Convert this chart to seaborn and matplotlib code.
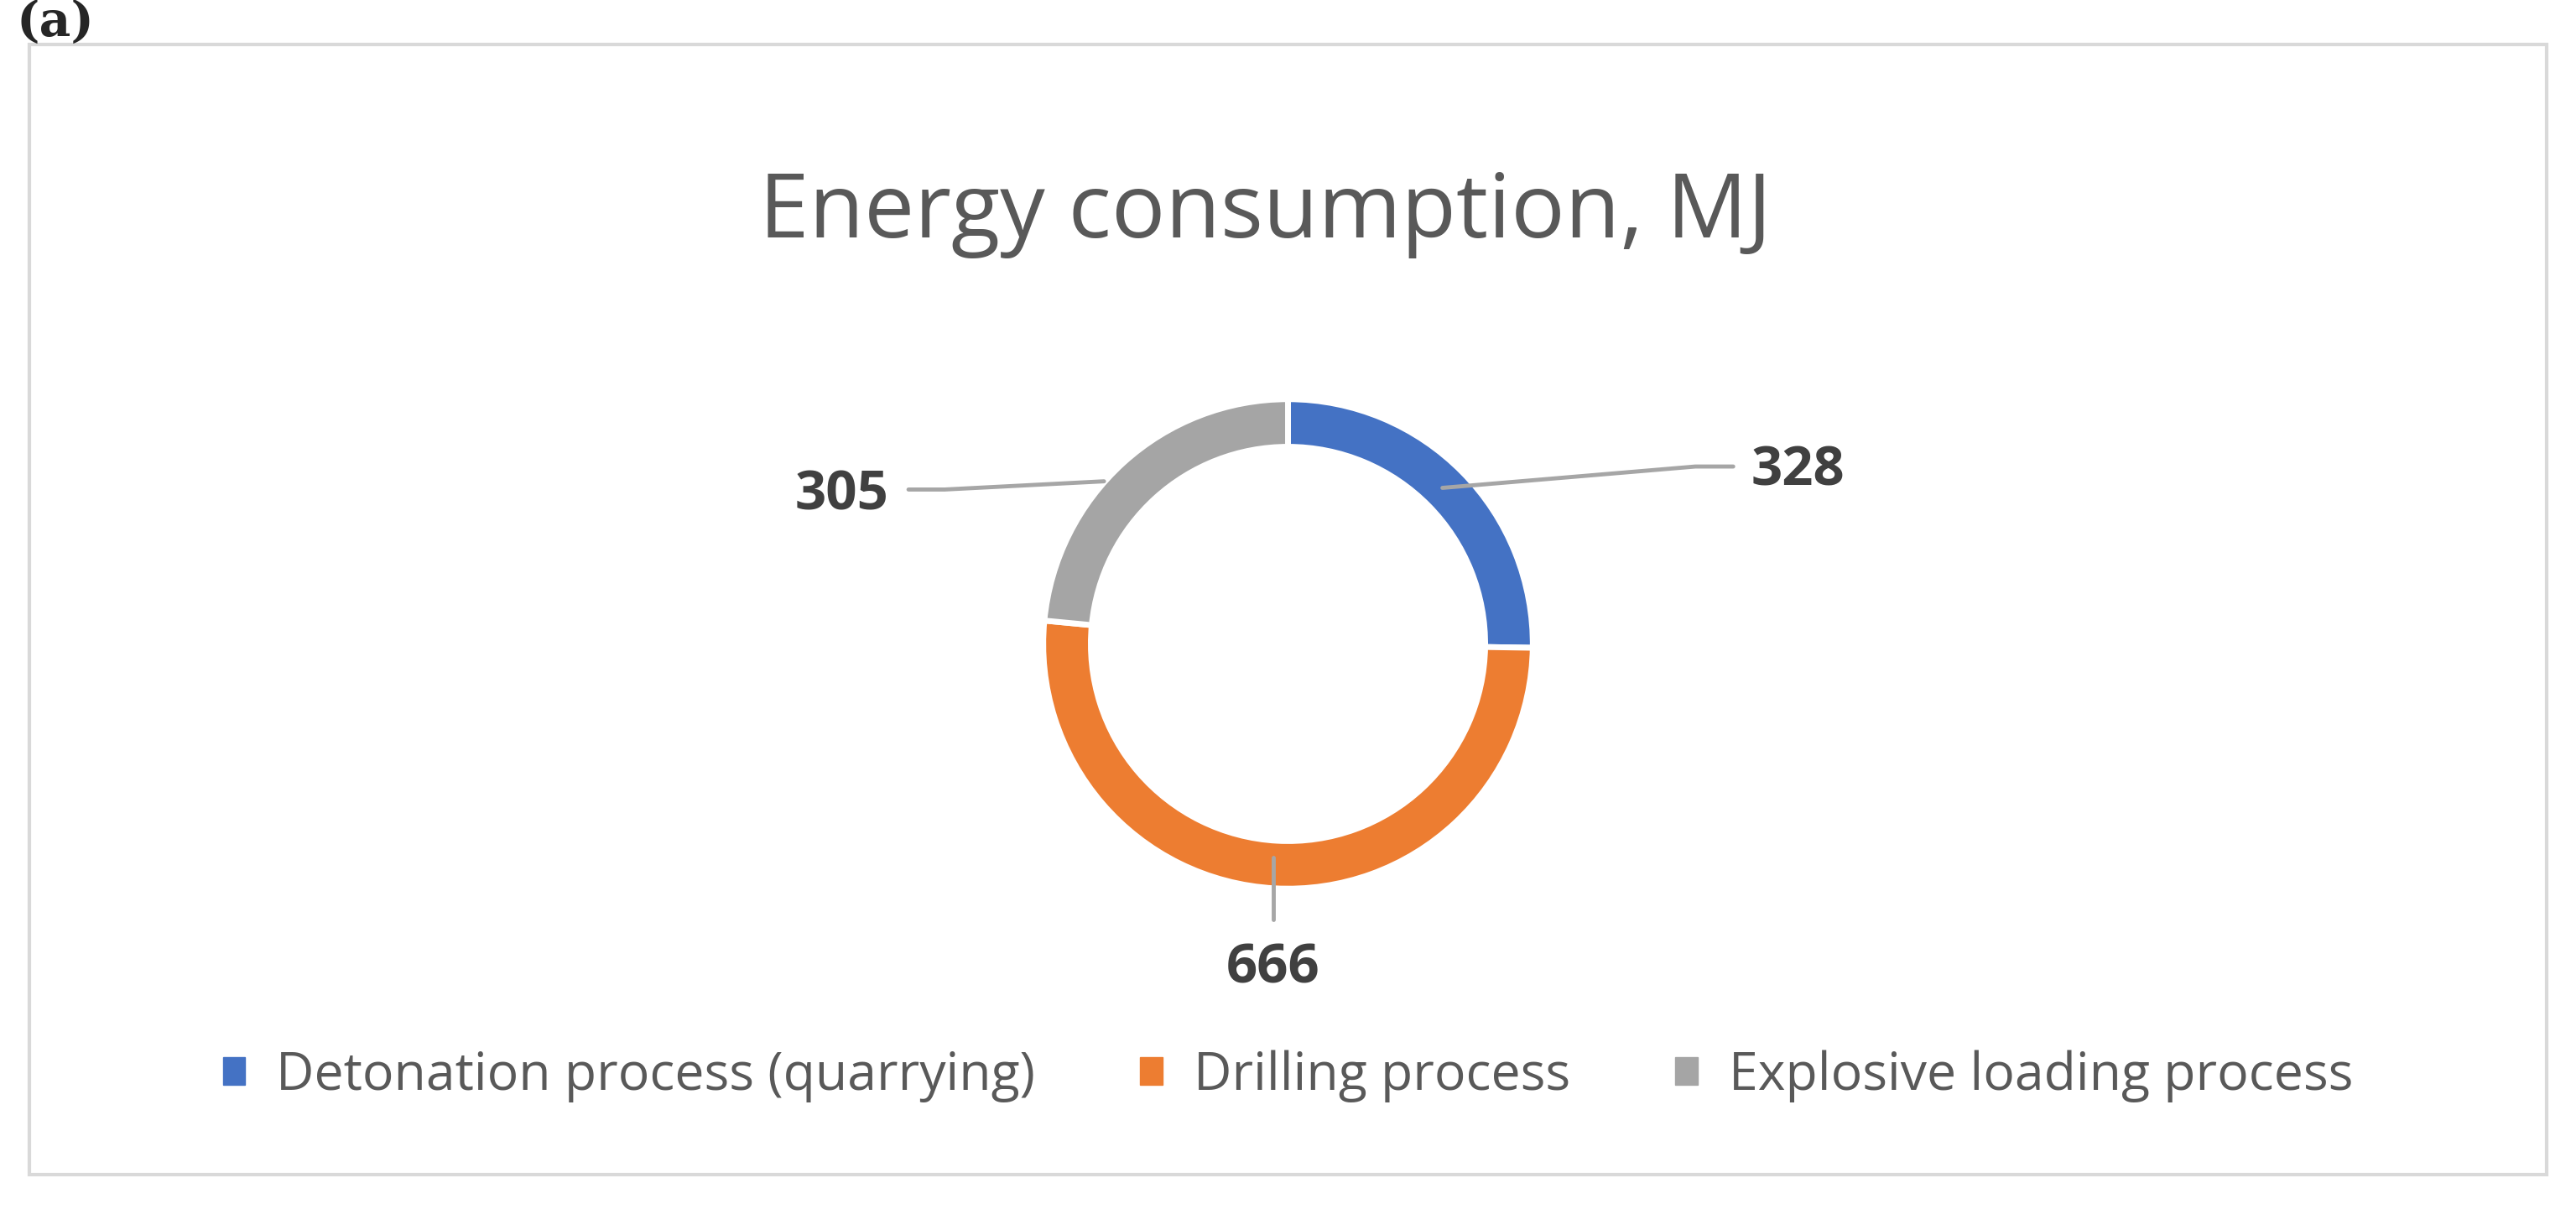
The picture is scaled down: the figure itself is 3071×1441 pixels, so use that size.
import matplotlib
matplotlib.use("Agg")
import matplotlib.pyplot as plt
import seaborn as sns
from matplotlib.patches import Rectangle

categories = ["Detonation process (quarrying)", "Drilling process", "Explosive loading process"]
values = [328, 666, 305]
colors = ["#4472C4", "#ED7D31", "#A5A5A5"]

sns.set_theme(style="white")
plt.rcParams['font.family'] = ['Open Sans', 'DejaVu Sans']

W, H = 1568, 736
fig = plt.figure(figsize=(30.71, 14.41), dpi=100)
ax = fig.add_axes([0, 0, 1, 1])
ax.set_xlim(0, W); ax.set_ylim(0, H); ax.axis('off')

ax.add_patch(Rectangle((18, 736-715), 1532, 688, fill=False, ec="#D9D9D9", lw=3))
ax.text(10, 736-14, "(a)", fontsize=42, fontweight='bold', family='DejaVu Serif', va='center', ha='left')
ax.text(770, 736-130, "Energy consumption, MJ", fontsize=77, color="#595959", ha='center', va='center')

pax = fig.add_axes([0, 0, 1, 1])
pax.set_aspect('equal', adjustable='datalim', anchor='C')
pax.pie(values, colors=colors, startangle=90, counterclock=False,
        center=(784, 344), radius=149,
        wedgeprops=dict(width=29, edgecolor='white', linewidth=5), frame=True)
pax.set_xlim(0, W); pax.set_ylim(0, H); pax.axis('off')

lc = "#A6A6A6"
pax.plot([878, 1032, 1055], [736-297, 736-284, 736-284], color=lc, lw=3.5)
pax.plot([672, 575, 553], [736-293, 736-298, 736-298], color=lc, lw=3.5)
pax.plot([775, 775], [736-522, 736-560], color=lc, lw=3.5)
lab = dict(fontsize=47, fontweight='bold', color="#404040", va='center')
pax.text(1066, 736-287, str(values[0]), ha='left', **lab)
pax.text(775, 736-590, str(values[1]), ha='center', **lab)
pax.text(541, 736-302, str(values[2]), ha='right', **lab)

handles = [Rectangle((0, 0), 1, 1, color=c) for c in colors]
fig.legend(handles, categories, loc='center', bbox_to_anchor=(0.5, 1-655/736), ncol=3,
           frameon=False, fontsize=45, labelcolor="#595959", handlelength=0.42, handleheight=0.42,
           columnspacing=2.0, handletextpad=0.6)

fig.savefig("out.png", dpi=100)
